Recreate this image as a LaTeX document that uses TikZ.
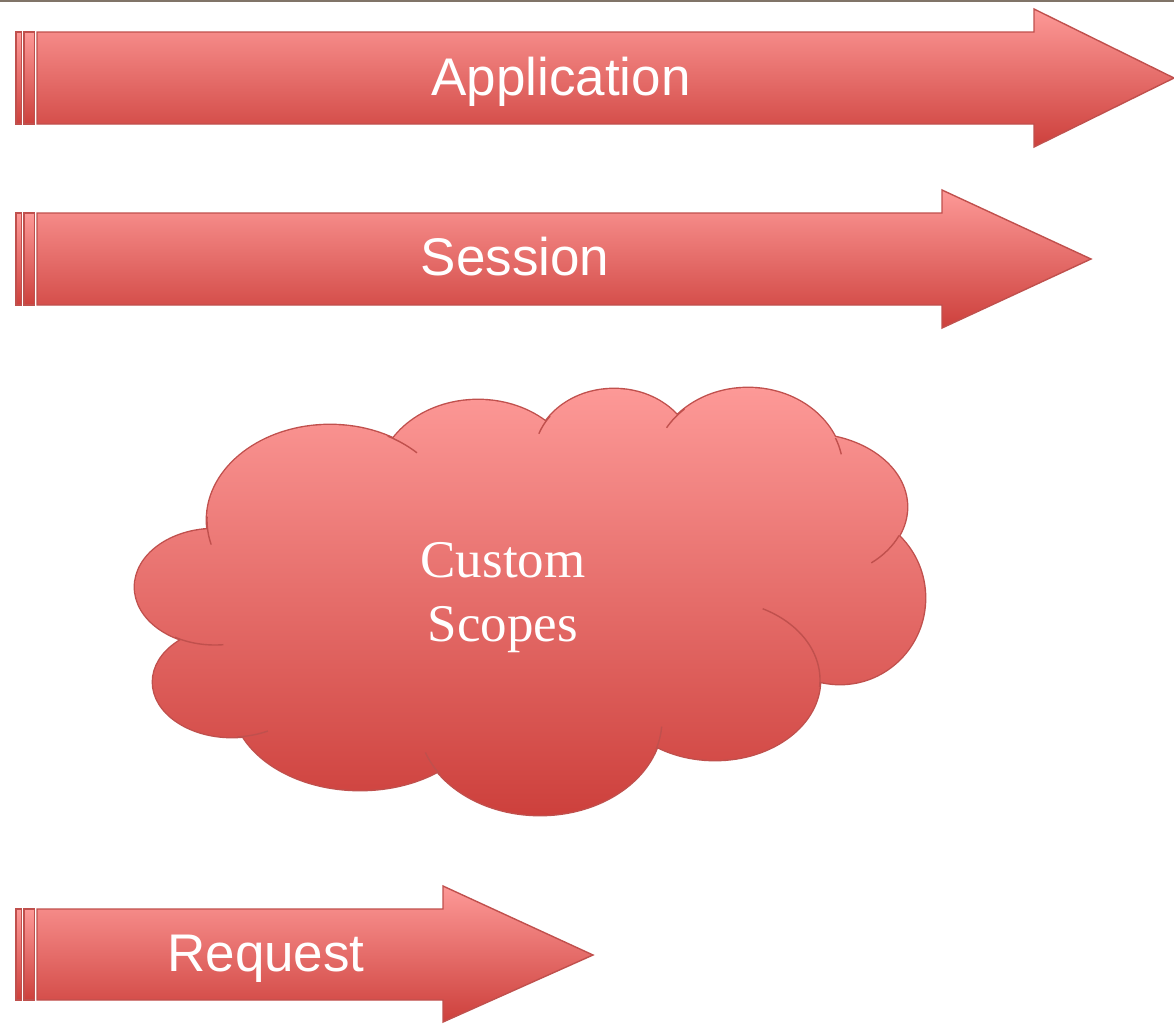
\documentclass[tikz,border=0pt]{standalone}
\usepackage{fontspec}
\setmainfont{Liberation Serif}
\newfontfamily\labelfont{Liberation Sans}
\usetikzlibrary{positioning}
\usepackage{xcolor}
\definecolor{scopetop}{RGB}{253,153,151}
\definecolor{scopemid}{RGB}{238,127,124}
\definecolor{scopebot}{RGB}{205,64,60}
\definecolor{scopeline}{RGB}{192,80,77}
\definecolor{topline}{RGB}{128,116,104}

\begin{document}
\begin{tikzpicture}[x=1pt, y=-1pt,
	scopefill/.style={top color=scopetop, middle color=scopemid, bottom color=scopebot},
	scopeedge/.style={draw=scopeline, line width=1.4pt},
	every node/.style={text=white, inner sep=0pt},
	arrowlabel/.style={font=\labelfont\fontsize{53}{64}\selectfont, anchor=base}]

	\useasboundingbox (0,0) rectangle (1174,1023);
	\draw[topline, line width=1.2pt] (0,1) -- (1174,1);

	\begin{scope}
		\path[scopefill, scopeedge] (16,32) rectangle (21.5,124);
		\path[scopefill, scopeedge] (24,32) rectangle (34.5,124);
		\path[scopefill, scopeedge] (37,32) -- (1034,32) -- (1034,9) -- (1174,78) -- (1034,147) -- (1034,124) -- (37,124) -- cycle;
		\node[arrowlabel] (app) at (561,95) {Application};
	\end{scope}

	\begin{scope}
		\path[scopefill, scopeedge] (16,213) rectangle (21.5,305);
		\path[scopefill, scopeedge] (24,213) rectangle (34.5,305);
		\path[scopefill, scopeedge] (37,213) -- (942,213) -- (942,190) -- (1091,259) -- (942,328) -- (942,305) -- (37,305) -- cycle;
		\node[arrowlabel] (sess) at (515,275) {Session};
	\end{scope}

	\begin{scope}
		\draw[scopeline, line width=2.8pt]
			(215,587) ellipse [x radius=80, y radius=58]
			(330,520) ellipse [x radius=123, y radius=95]
			(478,482) ellipse [x radius=100, y radius=82]
			(614,457) ellipse [x radius=80, y radius=68]
			(748,470) ellipse [x radius=95, y radius=82]
			(807,507) ellipse [x radius=100, y radius=73]
			(840,598) ellipse [x radius=85, y radius=86]
			(715,680) ellipse [x radius=105, y radius=80]
			(540,720) ellipse [x radius=122, y radius=95]
			(360,700) ellipse [x radius=128, y radius=90]
			(232,682) ellipse [x radius=79, y radius=55];
		\shade[scopefill]
			(215,587) ellipse [x radius=80, y radius=58]
			(330,520) ellipse [x radius=123, y radius=95]
			(478,482) ellipse [x radius=100, y radius=82]
			(614,457) ellipse [x radius=80, y radius=68]
			(748,470) ellipse [x radius=95, y radius=82]
			(807,507) ellipse [x radius=100, y radius=73]
			(840,598) ellipse [x radius=85, y radius=86]
			(715,680) ellipse [x radius=105, y radius=80]
			(540,720) ellipse [x radius=122, y radius=95]
			(360,700) ellipse [x radius=128, y radius=90]
			(232,682) ellipse [x radius=79, y radius=55]
			(530,600) ellipse [x radius=280, y radius=140];
		\draw[scopeline, line width=1.4pt] (215,587) ++(120:80 and 58) arc[start angle=120, end angle=84, x radius=80, y radius=58];
		\draw[scopeline, line width=1.4pt] (330,520) ++(182:123 and 95) arc[start angle=182, end angle=165, x radius=123, y radius=95];
		\draw[scopeline, line width=1.4pt] (330,520) ++(-62:123 and 95) arc[start angle=-62, end angle=-45, x radius=123, y radius=95];
		\draw[scopeline, line width=1.4pt] (614,457) ++(217:80 and 68) arc[start angle=217, end angle=200, x radius=80, y radius=68];
		\draw[scopeline, line width=1.4pt] (748,470) ++(228:95 and 82) arc[start angle=228, end angle=211, x radius=95, y radius=82];
		\draw[scopeline, line width=1.4pt] (748,470) ++(-23:95 and 82) arc[start angle=-23, end angle=-11, x radius=95, y radius=82];
		\draw[scopeline, line width=1.4pt] (807,507) ++(23:100 and 73) arc[start angle=23, end angle=50, x radius=100, y radius=73];
		\draw[scopeline, line width=1.4pt] (715,680) ++(5:105 and 80) arc[start angle=5, end angle=-63, x radius=105, y radius=80];
		\draw[scopeline, line width=1.4pt] (540,720) ++(18:122 and 95) arc[start angle=18, end angle=4, x radius=122, y radius=95];
		\draw[scopeline, line width=1.4pt] (540,720) ++(145:122 and 95) arc[start angle=145, end angle=160, x radius=122, y radius=95];
		\draw[scopeline, line width=1.4pt] (232,682) ++(86:79 and 55) arc[start angle=86, end angle=63, x radius=79, y radius=55];
		\node[font=\fontsize{53}{64}\selectfont, align=center] (scopes) at (503,598) {Custom\\Scopes};
	\end{scope}

	\begin{scope}
		\path[scopefill, scopeedge] (16,909) rectangle (21.5,1000);
		\path[scopefill, scopeedge] (24,909) rectangle (34.5,1000);
		\path[scopefill, scopeedge] (37,909) -- (443,909) -- (443,886) -- (593,955) -- (443,1022) -- (443,1000) -- (37,1000) -- cycle;
		\node[arrowlabel] (req) at (266,971) {Request};
	\end{scope}
\end{tikzpicture}
\end{document}
